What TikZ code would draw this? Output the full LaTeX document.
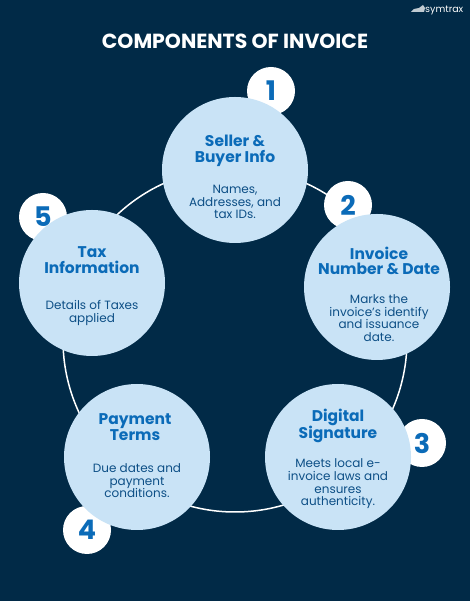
\documentclass[tikz,border=0pt]{standalone}
\usepackage{fontspec}
\setmainfont{Poppins}
\definecolor{navybg}{HTML}{012A47}
\definecolor{paleblue}{HTML}{C9E3F6}
\definecolor{headblue}{HTML}{0B6BB8}
\definecolor{bodyblue}{HTML}{0D4F86}
\tikzset{
  bigcirc/.style={circle,fill=paleblue,minimum size=146pt,inner sep=0pt},
  numcirc/.style={circle,fill=white,minimum size=48pt,inner sep=0pt,text=headblue,font=\fontsize{27}{27}\selectfont\bfseries},
  headtext/.style={align=center,text=headblue,inner sep=0pt,font=\fontsize{15.5}{15.4}\selectfont\bfseries},
  bodytext/.style={align=center,text=bodyblue,inner sep=0pt,font=\fontsize{12}{12.6}\selectfont}
}
\begin{document}
\begin{tikzpicture}[x=1pt,y=1pt]
\useasboundingbox (0,0) rectangle (470,601);
\fill[navybg] (0,0) rectangle (470,601);
\node[font=\fontsize{20.4}{22}\selectfont\bfseries,text=white,inner sep=0pt] (title) at (235,560) {COMPONENTS OF INVOICE};
% logo
\fill[white!75!navybg] (411,589) -- (414,592) -- (419,593) -- (423,596) -- (425,593) -- (424,589) -- cycle;
\node[font=\fontsize{9.5}{10}\selectfont,text=white,inner sep=0pt,anchor=west] (logo) at (425,591) {symtrax};
% ring
\draw[white,line width=1.5pt] (235,261) circle (172);
% number circles
\node[numcirc] (num1) at (271,510) {1};
\node[numcirc] (num2) at (348,396) {2};
\node[numcirc] (num3) at (422,158) {3};
\node[numcirc] (num4) at (87,71) {4};
\node[numcirc] (num5) at (43,384) {5};
% big circles
\node[bigcirc] (seller) at (235,431) {};
\node[bigcirc] (invoice) at (377,314) {};
\node[bigcirc] (digital) at (338,144) {};
\node[bigcirc] (payment) at (137,144) {};
\node[bigcirc] (tax) at (92,318) {};
% seller
\node[headtext] (sellerhead) at (235,450) {Seller \&\\Buyer Info};
\node[bodytext] (sellerbody) at (235,399) {Names,\\Addresses, and\\tax IDs.};
% invoice
\node[headtext] (invoicehead) at (379,340) {Invoice\\Number \& Date};
\node[bodytext] (invoicebody) at (379,283) {Marks the\\invoice’s identify\\and issuance\\date.};
% digital
\node[headtext] (digitalhead) at (338,175) {Digital\\Signature};
\node[bodytext] (digitalbody) at (338,117) {Meets local e-\\invoice laws and\\ensures\\authenticity.};
% payment
\node[headtext] (paymenthead) at (135,174) {Payment\\Terms};
\node[bodytext] (paymentbody) at (137,120) {Due dates and\\payment\\conditions.};
% tax
\node[headtext] (taxhead) at (92,341) {Tax\\Information};
\node[bodytext] (taxbody) at (92,288) {Details of Taxes\\applied};
\end{tikzpicture}
\end{document}
